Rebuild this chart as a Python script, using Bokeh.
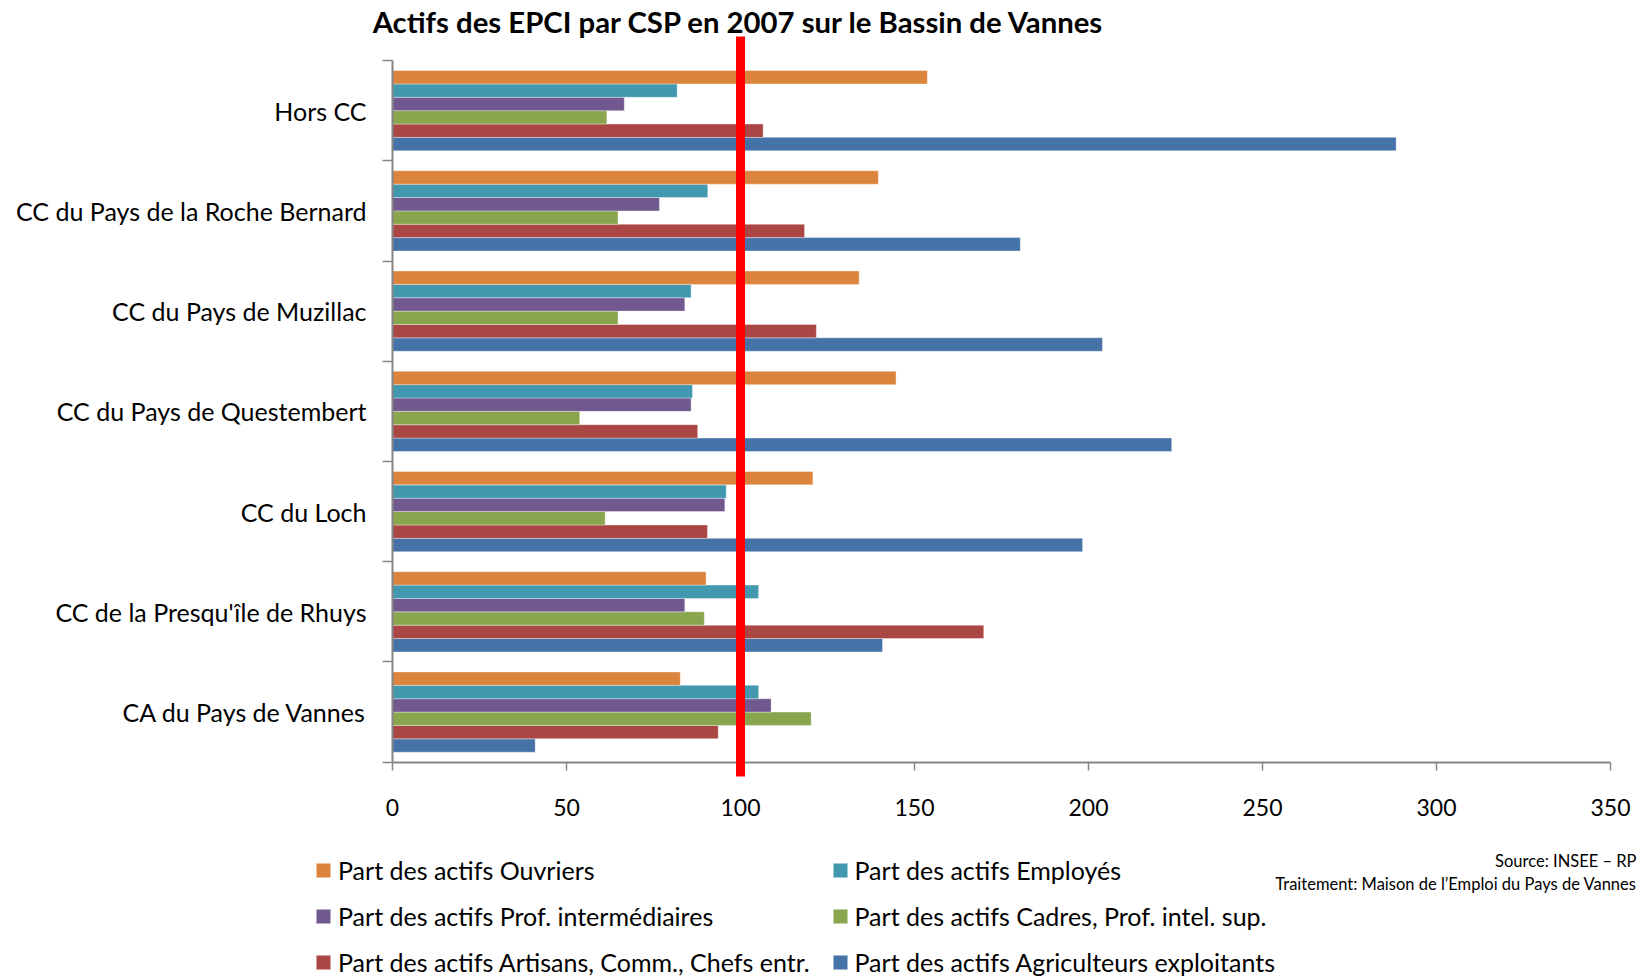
from bokeh.plotting import figure
from bokeh.models import (ColumnDataSource, Range1d, FixedTicker, Label,
                          Legend, LegendItem)
from bokeh.transform import dodge
from bokeh.embed import file_html
from bokeh.resources import INLINE

# ---------------- data (bottom to top, as drawn) ----------------
categories = ["CA du Pays de Vannes", "CC de la Presqu'île de Rhuys", "CC du Loch",
              "CC du Pays de Questembert", "CC du Pays de Muzillac",
              "CC du Pays de la Roche Bernard", "Hors CC"]

agriculteurs = [41.0, 140.8, 198.3, 223.9, 204.0, 180.4, 288.4]
artisans     = [93.6, 169.9, 90.5, 87.7, 121.8, 118.4, 106.5]
cadres       = [120.3, 89.6, 61.1, 53.8, 64.8, 64.8, 61.6]
prof_inter   = [108.8, 84.0, 95.5, 85.8, 84.0, 76.7, 66.6]
employes     = [105.2, 105.2, 95.9, 86.2, 85.8, 90.6, 81.8]
ouvriers     = [82.7, 90.1, 120.8, 144.7, 134.1, 139.6, 153.7]

series_names = ["Part des actifs Agriculteurs exploitants",
                "Part des actifs Artisans, Comm., Chefs entr.",
                "Part des actifs Cadres, Prof. intel. sup.",
                "Part des actifs Prof. intermédiaires",
                "Part des actifs Employés",
                "Part des actifs Ouvriers"]
series_values = [agriculteurs, artisans, cadres, prof_inter, employes, ouvriers]
series_colors = ["#4572A7", "#AA4643", "#89A54E", "#71588F", "#4198AF", "#DB843D"]

x_ticks = [0, 50, 100, 150, 200, 250, 300, 350]
x_min, x_max = 0, 350
reference_value = 100

title_text = "Actifs des EPCI par CSP en 2007 sur le Bassin de Vannes"
source_line1 = "Source: INSEE \u2013 RP"
source_line2 = "Traitement: Maison de l\u2019Emploi du Pays de Vannes"

# ---------------- layout constants ----------------
W, H = 1639, 976
FONT = "Lato"
AXIS_COLOR = "#868686"
n = len(categories)
bar_h = 1 / 7.5               # Excel gap width 150 %
PX_X = 3.48                   # px per x unit
PX_Y = 100.24                 # px per category
X0_PX, Y0_PX = 392, 761.7     # canvas position of the (0, 0) corner

def rx(px):                   # canvas x -> data x
    return (px - X0_PX) / PX_X

def ry(py):                   # canvas y -> data y
    return (Y0_PX - py) / PX_Y

# the frame covers the whole canvas; axes are pinned at data 0
p = figure(width=W, height=H, output_backend="svg", toolbar_location=None,
           x_range=Range1d(rx(0), rx(W)), y_range=Range1d(ry(H), ry(0)),
           min_border=0, min_border_left=0, min_border_right=0,
           min_border_top=0, min_border_bottom=0)
p.outline_line_color = None
p.xgrid.visible = False
p.ygrid.visible = False
p.background_fill_color = "white"
p.border_fill_color = "white"

src = ColumnDataSource(dict(yc=[i + 0.5 for i in range(n)],
                            **{f"s{k}": v for k, v in enumerate(series_values)}))

renderers = []
for k, (name, col) in enumerate(zip(series_names, series_colors)):
    r = p.hbar(y=dodge("yc", (k - 2.5) * bar_h), left=0, right=f"s{k}",
               height=bar_h, source=src, fill_color=col,
               line_color="white", line_alpha=0.35, line_width=1)
    renderers.append(r)

# x axis
xa = p.xaxis[0]
xa.fixed_location = 0
xa.bounds = (x_min, x_max)
xa.ticker = FixedTicker(ticks=x_ticks)
xa.axis_line_color = AXIS_COLOR
xa.axis_line_width = 2
xa.major_tick_line_color = AXIS_COLOR
xa.major_tick_line_width = 1.5
xa.major_tick_in = 0
xa.major_tick_out = 8
xa.minor_tick_line_color = None
xa.major_label_text_font = FONT
xa.major_label_text_font_size = "23px"
xa.major_label_text_color = "black"
xa.major_label_standoff = 29

# y axis (ticks at category boundaries, labels at centres)
ya = p.yaxis[0]
ya.fixed_location = 0
ya.bounds = (0, n)
ya.ticker = FixedTicker(ticks=[i + 0.5 for i in range(n)],
                        minor_ticks=list(range(n + 1)))
ya.major_label_overrides = {i + 0.5: c for i, c in enumerate(categories)}
ya.axis_line_color = AXIS_COLOR
ya.axis_line_width = 2
ya.major_tick_line_color = None
ya.major_tick_in = 0
ya.major_tick_out = 0
ya.minor_tick_line_color = AXIS_COLOR
ya.minor_tick_line_width = 1.5
ya.minor_tick_in = 0
ya.minor_tick_out = 10
ya.major_label_text_font = FONT
ya.major_label_text_font_size = "25px"
ya.major_label_text_color = "black"
ya.major_label_standoff = 16

# red reference line (drawn above the axes, overshooting them as in the original)
p.segment(x0=[reference_value], x1=[reference_value], y0=[ry(776)], y1=[ry(36)],
          line_color="#FF0000", line_width=9, level="overlay")

# title
p.add_layout(Label(x=rx(738.5), y=ry(20.7), text=title_text, text_font=FONT,
                   text_font_style="bold", text_font_size="29.3px",
                   text_align="center", text_baseline="middle",
                   text_color="black"))

# source (right aligned so that nothing is cut)
p.add_layout(Label(x=rx(1636), y=ry(860.7), text=source_line1, text_font=FONT,
                   text_font_size="16.5px", text_align="right",
                   text_baseline="middle", text_color="black"))
p.add_layout(Label(x=rx(1636), y=ry(883), text=source_line2, text_font=FONT,
                   text_font_size="16.5px", text_align="right",
                   text_baseline="middle", text_color="black"))

# legends (two columns, row-major as in the original)
col1 = [5, 3, 1]
col2 = [4, 2, 0]
for cols, xpos in ((col1, 314), (col2, 830.5)):
    lg = Legend(items=[LegendItem(label=series_names[k], renderers=[renderers[k]])
                       for k in cols],
                location=(xpos, -1), orientation="vertical",
                glyph_width=18, glyph_height=18, label_standoff=6,
                spacing=16, label_height=30, padding=0, margin=0,
                border_line_color=None, background_fill_alpha=0,
                label_text_font=FONT, label_text_font_size="25px",
                label_text_color="black")
    p.add_layout(lg)

open("out.html", "w").write(file_html(p, INLINE))
